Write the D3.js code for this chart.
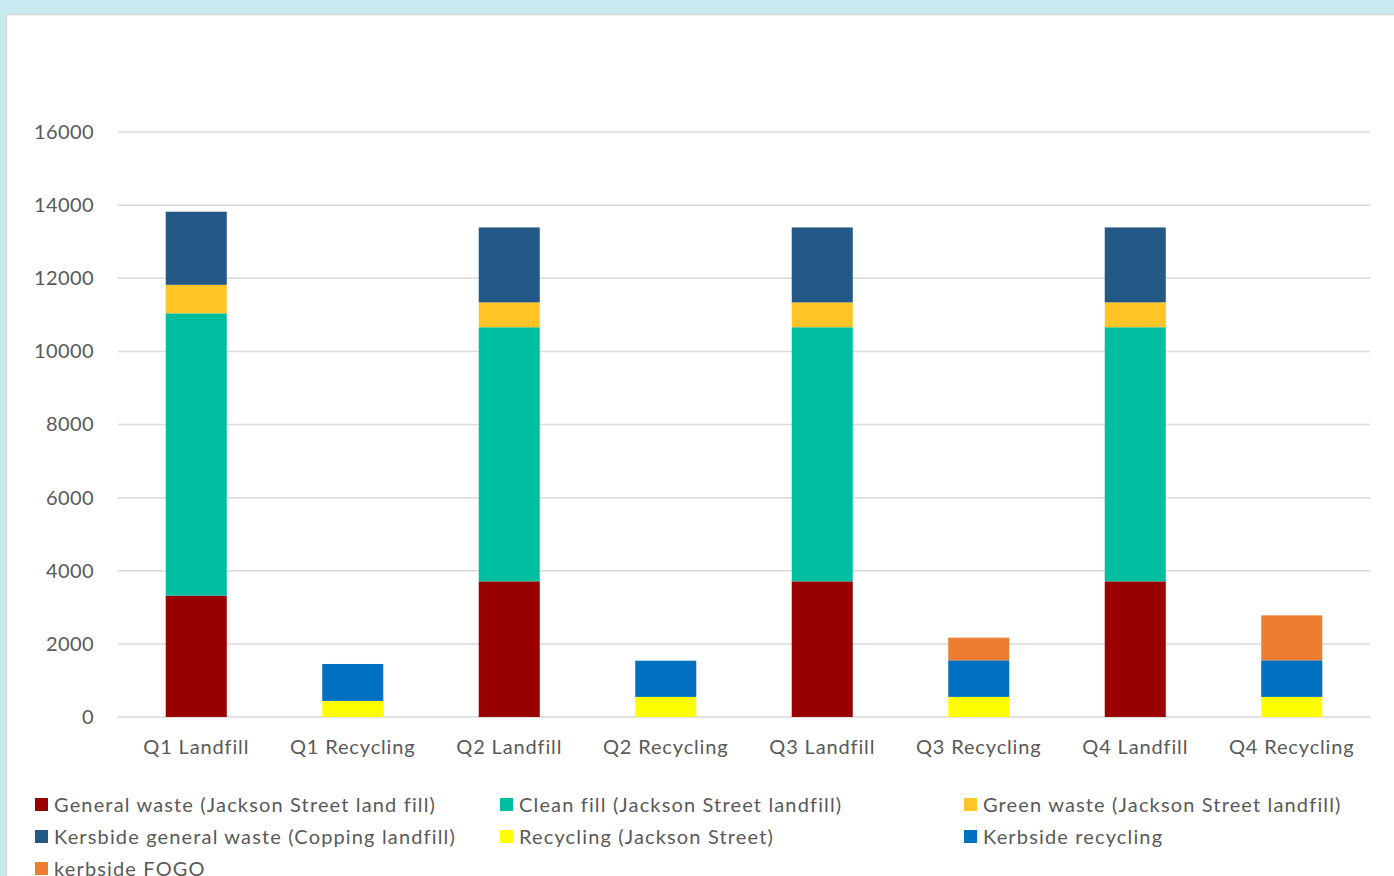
<!DOCTYPE html>
<html>
<head>
<meta charset="utf-8">
<script src="https://cdn.jsdelivr.net/npm/d3@7"></script>
<style>
  html, body { margin: 0; padding: 0; background: #c9e9f0; }
  svg { display: block; }
</style>
</head>
<body>
<svg id="chart" width="1394" height="876"></svg>
<script>
// Quarterly waste tonnages, split into landfill and recycling streams
const categories = ["Q1 Landfill", "Q1 Recycling", "Q2 Landfill", "Q2 Recycling",
                    "Q3 Landfill", "Q3 Recycling", "Q4 Landfill", "Q4 Recycling"];

const seriesNames = [
  "General waste (Jackson Street land fill)",
  "Clean fill (Jackson Street landfill)",
  "Green waste (Jackson Street landfill)",
  "Kersbide general waste (Copping landfill)",
  "Recycling (Jackson Street)",
  "Kerbside recycling",
  "kerbside FOGO"
];

const generalWaste     = [3320, 0, 3710, 0, 3710, 0, 3710, 0];
const cleanFill        = [7720, 0, 6950, 0, 6950, 0, 6950, 0];
const greenWaste       = [780, 0, 680, 0, 680, 0, 680, 0];
const kersbideGeneral  = [2000, 0, 2050, 0, 2050, 0, 2050, 0];
const recyclingJackson = [0, 440, 0, 550, 0, 550, 0, 550];
const kerbsideRecycling= [0, 1010, 0, 990, 0, 1000, 0, 1000];
const kerbsideFogo     = [0, 0, 0, 0, 0, 620, 0, 1230];

const yTicks = [0, 2000, 4000, 6000, 8000, 10000, 12000, 14000, 16000];

const seriesValues = [generalWaste, cleanFill, greenWaste, kersbideGeneral,
                      recyclingJackson, kerbsideRecycling, kerbsideFogo];
const colors = ["#990000", "#00bfa0", "#ffc425", "#245886", "#ffff00", "#0070c0", "#ed7d31"];

const rows = categories.map((c, i) => {
  const r = { cat: c };
  seriesNames.forEach((s, k) => r[s] = seriesValues[k][i]);
  return r;
});
const stacked = d3.stack().keys(seriesNames)(rows);

const svg = d3.select("#chart");
const font = "Lato, 'Open Sans', sans-serif";

// chart panel
svg.append("rect")
  .attr("x", 6.5).attr("y", 14.5).attr("width", 1400).attr("height", 900)
  .attr("fill", "#ffffff").attr("stroke", "#d9d9d9").attr("stroke-width", 1.5);

const plot = { left: 118, right: 1370, top: 132, bottom: 717 };

const x = d3.scaleBand().domain(categories)
  .range([plot.left, plot.right])
  .paddingInner(0.61).paddingOuter(0.305);
const y = d3.scaleLinear().domain([0, 16000]).range([plot.bottom, plot.top]);

// gridlines
svg.append("g").selectAll("line").data(yTicks).join("line")
  .attr("x1", plot.left).attr("x2", plot.right)
  .attr("y1", d => y(d)).attr("y2", d => y(d))
  .attr("stroke", "#d9d9d9").attr("stroke-width", 1.5);

// y axis labels
const yAxis = svg.append("g").attr("transform", `translate(${plot.left},0)`)
  .call(d3.axisLeft(y).tickValues(yTicks).tickSize(0).tickPadding(24).tickFormat(d3.format("d")));
yAxis.select(".domain").remove();
yAxis.selectAll("text").attr("font-family", font).attr("font-size", 20)
  .attr("letter-spacing", 0.4).attr("fill", "#595959");

// stacked bars
svg.append("g").selectAll("g").data(stacked).join("g")
  .attr("fill", (d, i) => colors[i])
  .selectAll("rect").data(d => d.filter(p => p[1] - p[0] > 0)).join("rect")
  .attr("x", d => x(d.data.cat))
  .attr("width", x.bandwidth())
  .attr("y", d => y(d[1]))
  .attr("height", d => y(d[0]) - y(d[1]));

// x axis labels
const xAxis = svg.append("g").attr("transform", `translate(0,${plot.bottom})`)
  .call(d3.axisBottom(x).tickSize(0).tickPadding(23));
xAxis.select(".domain").remove();
xAxis.selectAll("text").attr("font-family", font).attr("font-size", 20)
  .attr("letter-spacing", 0.85).attr("fill", "#595959");

// legend
const legendPos = [
  [35, 805], [500, 805], [964, 805],
  [35, 837], [500, 837], [964, 837],
  [35, 869]
];
const legend = svg.append("g").selectAll("g").data(seriesNames).join("g")
  .attr("transform", (d, i) => `translate(${legendPos[i][0]},${legendPos[i][1]})`);
legend.append("rect").attr("x", 0).attr("y", -7).attr("width", 13).attr("height", 13)
  .attr("fill", (d, i) => colors[i]);
legend.append("text").attr("x", 19).attr("y", 0).attr("dy", "0.35em")
  .attr("font-family", font).attr("font-size", 20).attr("letter-spacing", 1.15)
  .attr("fill", "#595959")
  .text(d => d);
</script>
</body>
</html>
